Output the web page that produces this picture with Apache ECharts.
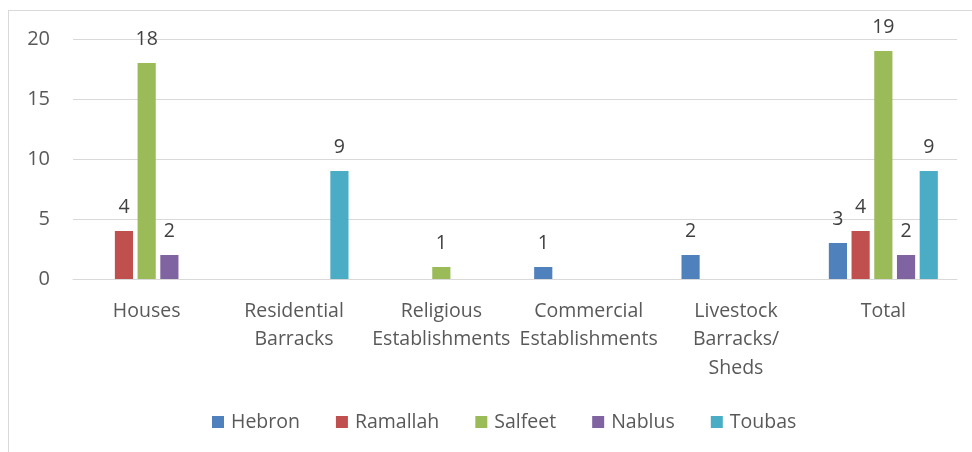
<!DOCTYPE html>
<html>
<head>
<meta charset="utf-8">
<script src="https://cdn.jsdelivr.net/npm/echarts@6/dist/echarts.min.js"></script>
<style>
  html, body { margin: 0; padding: 0; background: #ffffff; }
  #frame {
    position: absolute; left: 8px; top: 10px; width: 980px; height: 460px;
    border: 1px solid #d9d9d9; box-sizing: border-box;
  }
  #chart { position: absolute; left: 0; top: 0; width: 972px; height: 452px; }
</style>
</head>
<body>
<div id="frame"></div>
<div id="chart"></div>
<script>
const categories = ['Houses', 'Residential\nBarracks', 'Religious\nEstablishments',
  'Commercial\nEstablishments', 'Livestock\nBarracks/\nSheds', 'Total'];
const hebron   = [0, 0, 0, 1, 2, 3];
const ramallah = [4, 0, 0, 0, 0, 4];
const salfeet  = [18, 0, 1, 0, 0, 19];
const nablus   = [2, 0, 0, 0, 0, 2];
const toubas   = [0, 9, 0, 0, 0, 9];
const yTicks   = [0, 5, 10, 15, 20];

const font = 'Open Sans, Noto Sans, sans-serif';

function makeSeries(name, data, color) {
  return {
    name: name,
    type: 'bar',
    data: data,
    barGap: '25%',
    barCategoryGap: '26%',
    itemStyle: { color: color },
    label: {
      show: true,
      position: 'top',
      distance: 14,
      color: '#404040',
      fontSize: 19.5,
      fontFamily: font,
      // zero values get no label
      formatter: p => (p.value === 0 ? '' : p.value)
    }
  };
}

const chart = echarts.init(document.getElementById('chart'));
chart.setOption({
  animation: false,
  grid: { left: 73, right: 15, top: 39, bottom: 173, containLabel: false },
  legend: {
    bottom: 15,
    left: 207,
    itemWidth: 12,
    itemHeight: 12,
    itemGap: 36,
    icon: 'rect',
    textStyle: { color: '#595959', fontSize: 19.5, fontFamily: font, padding: [0, 0, 0, 2] }
  },
  xAxis: {
    type: 'category',
    data: categories,
    axisLine: { lineStyle: { color: '#d9d9d9', width: 1 } },
    axisTick: { show: false },
    axisLabel: {
      interval: 0,
      color: '#595959',
      fontSize: 19.5,
      fontFamily: font,
      margin: 18,
      lineHeight: 28.5
    }
  },
  yAxis: {
    type: 'value',
    min: 0,
    max: 20,
    interval: 5,
    axisLine: { show: false },
    axisTick: { show: false },
    splitLine: { lineStyle: { color: '#d9d9d9', width: 1 } },
    axisLabel: {
      color: '#595959', fontSize: 20, fontFamily: font, margin: 23,
      formatter: v => (yTicks.includes(v) ? String(v) : '')
    }
  },
  series: [
    makeSeries('Hebron', hebron, '#4F81BD'),
    makeSeries('Ramallah', ramallah, '#C0504D'),
    makeSeries('Salfeet', salfeet, '#9BBB59'),
    makeSeries('Nablus', nablus, '#8064A2'),
    makeSeries('Toubas', toubas, '#4BACC6')
  ]
});
</script>
</body>
</html>
